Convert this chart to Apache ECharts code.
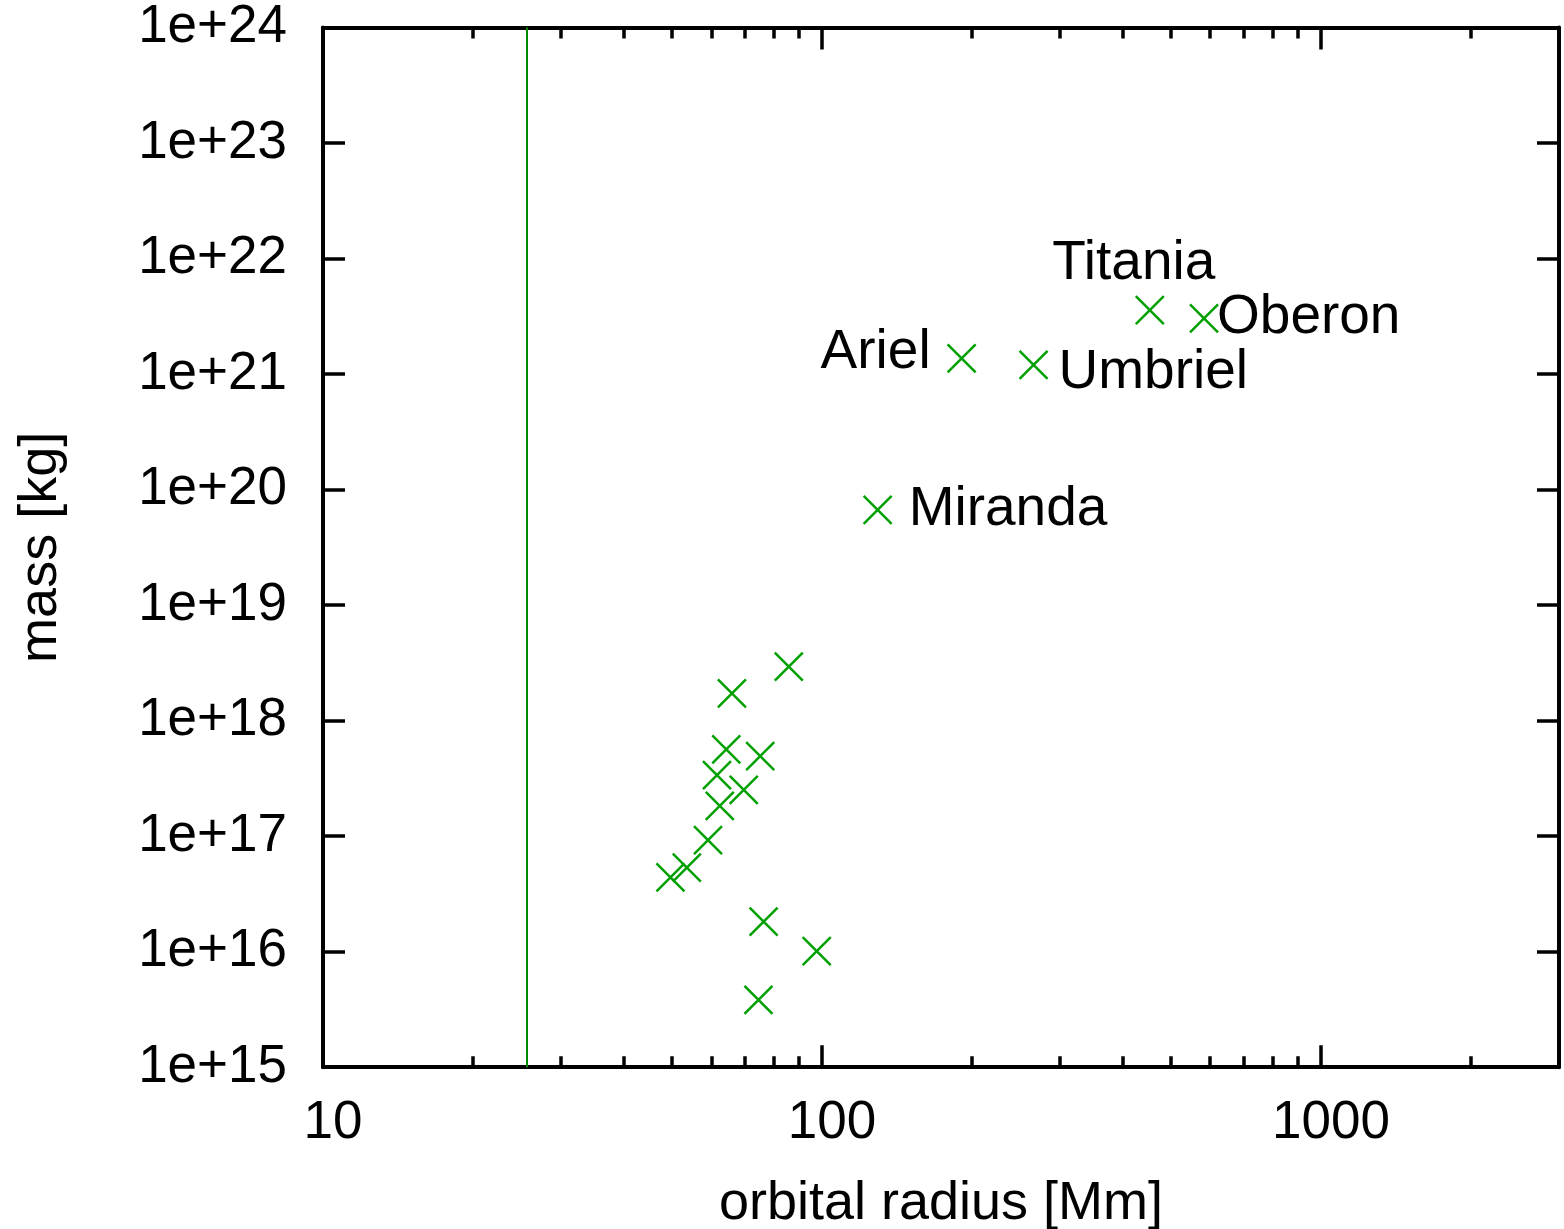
<!DOCTYPE html>
<html>
<head>
<meta charset="utf-8">
<title>Uranian moons</title>
<script src="https://cdn.jsdelivr.net/npm/echarts@6.0.0/dist/echarts.min.js"></script>
<style>
	html, body { margin: 0; padding: 0; background: #fff; }
	#MoonChart { width: 1564px; height: 1229px; }
</style>
</head>
<body>
<div id="MoonChart"></div>
<script>
// moons
var moonNames = ['Cordelia', 'Ophelia', 'Bianca', 'Cressida', 'Desdemona', 'Juliet', 'Portia', 'Rosalind', 'Cupid',
	'Belinda', 'Perdita', 'Puck', 'Mab', 'Miranda', 'Ariel', 'Umbriel', 'Titania', 'Oberon'];
var orbitalRadius = [49.7, 53.6, 59.1, 61.6, 62.4, 64.3, 66.0, 69.7, 74.6, 75.2, 76.4, 85.8, 97.6, 129.3, 190.5, 265.5, 454, 583];
var moonMass = [4.4e16, 5.33e16, 9.26e16, 3.38e17, 1.83e17, 5.65e17, 1.72e18, 2.51e17, 3.82e15, 4.94e17, 1.82e16, 2.93e18,
	1.01e16, 6.66e19, 1.37e21, 1.2e21, 3.58e21, 3.04e21];
var uranusRadius = 25.559;

// axis ticks
var xTickValues = [10, 100, 1000];
var xTickLabels = ['10', '100', '1000'];
var xMinorTicks = [20, 30, 40, 50, 60, 70, 80, 90, 200, 300, 400, 500, 600, 700, 800, 900, 2000];
var yTickValues = [1e15, 1e16, 1e17, 1e18, 1e19, 1e20, 1e21, 1e22, 1e23, 1e24];
var yTickLabels = ['1e+15', '1e+16', '1e+17', '1e+18', '1e+19', '1e+20', '1e+21', '1e+22', '1e+23', '1e+24'];

Chart = {
	myChart : null,
	option : null,
	font : 'Liberation Sans',
	green : '#00a000',
	// where the moon names sit next to their marks
	labelPlace : {
		Titania : {align: 'center', offset: [-16, -46]},
		Oberon : {align: 'left', offset: [13, 0]},
		Ariel : {align: 'right', offset: [-31, -5]},
		Umbriel : {align: 'left', offset: [25, 8]},
		Miranda : {align: 'left', offset: [31, 0]}
	},
	initload : function(){
		Chart.myChart = echarts.init(document.getElementById('MoonChart'), null, {renderer: 'canvas'});
		Chart.buildOption();
		Chart.myChart.setOption(Chart.option);
	},
	findLabel : function(vals, labels, v){
		for (var i = 0; i < vals.length; i++) {
			if (Math.abs(Math.log10(vals[i]) - Math.log10(v)) < 1e-6) return labels[i];
		}
		return '';
	},
	xAxisBase : function(pos, major){
		return {
			type: 'log',
			logBase: 10,
			position: pos,
			min: 10,
			max: 3000,
			axisLine: {show: major, lineStyle: {color: '#000', width: 4}},
			axisTick: {
				show: true,
				inside: true,
				length: major ? 22 : 11,
				customValues: major ? xTickValues : xMinorTicks,
				lineStyle: {color: '#000', width: 3.5}
			},
			axisLabel: {show: false},
			splitLine: {show: false},
			minorTick: {show: false}
		};
	},
	yAxisBase : function(pos){
		return {
			type: 'log',
			logBase: 10,
			position: pos,
			min: 1e15,
			max: 1.000001e24,
			axisLine: {show: true, lineStyle: {color: '#000', width: 4}},
			axisTick: {
				show: true,
				inside: true,
				length: 22,
				customValues: yTickValues,
				lineStyle: {color: '#000', width: 3.5}
			},
			axisLabel: {show: false},
			splitLine: {show: false}
		};
	},
	buildOption : function(){
		var points = [];
		for (var i = 0; i < moonNames.length; i++) {
			var item = {name: moonNames[i], value: [orbitalRadius[i], moonMass[i]]};
			var place = Chart.labelPlace[moonNames[i]];
			if (place) {
				item.label = {
					show: true,
					position: 'inside',
					align: place.align,
					verticalAlign: 'middle',
					offset: place.offset,
					formatter: '{b}',
					color: '#000',
					fontSize: 55,
					fontFamily: Chart.font
				};
			}
			points.push(item);
		}

		var xBottom = Chart.xAxisBase('bottom', true);
		xBottom.axisLabel = {
			show: true,
			customValues: xTickValues,
			showMinLabel: true,
			showMaxLabel: true,
			margin: 30,
			padding: [0, 0, 0, 20],
			color: '#000',
			fontSize: 53,
			fontFamily: Chart.font,
			formatter: function(v){ return Chart.findLabel(xTickValues, xTickLabels, v); }
		};
		xBottom.name = 'orbital radius [Mm]';
		xBottom.nameLocation = 'middle';
		xBottom.nameGap = 110;
		xBottom.nameTextStyle = {color: '#000', fontSize: 54, fontFamily: Chart.font, verticalAlign: 'top'};

		var yLeft = Chart.yAxisBase('left');
		yLeft.axisLabel = {
			show: true,
			customValues: yTickValues,
			showMinLabel: true,
			showMaxLabel: true,
			margin: 36,
			color: '#000',
			fontSize: 53,
			fontFamily: Chart.font,
			formatter: function(v){ return Chart.findLabel(yTickValues, yTickLabels, v); }
		};
		yLeft.name = 'mass [kg]';
		yLeft.nameLocation = 'middle';
		yLeft.nameRotate = 90;
		yLeft.nameGap = 255;
		yLeft.nameTextStyle = {color: '#000', fontSize: 54, fontFamily: Chart.font};

		Chart.option = {
			backgroundColor: '#fff',
			animation: false,
			grid: {left: 323, right: 5, top: 27.5, bottom: 161.8, containLabel: false, outerBoundsMode: 'none'},
			xAxis: [
				xBottom,
				Chart.xAxisBase('top', true),
				Chart.xAxisBase('bottom', false),
				Chart.xAxisBase('top', false)
			],
			yAxis: [
				yLeft,
				Chart.yAxisBase('right')
			],
			series: [
				{
					name: 'moons',
					type: 'scatter',
					xAxisIndex: 0,
					yAxisIndex: 0,
					symbol: 'path://M0,0L10,10M10,0L0,10',
					symbolSize: 28,
					itemStyle: {color: 'rgba(0,0,0,0)', borderColor: Chart.green, borderWidth: 2.5, opacity: 1},
					emphasis: {disabled: true},
					data: points,
					markLine: {
						silent: true,
						symbol: 'none',
						label: {show: false},
						lineStyle: {color: '#008a00', width: 2, type: 'solid'},
						data: [{xAxis: uranusRadius}]
					}
				}
			]
		};
	}
};

Chart.initload();
</script>
</body>
</html>
